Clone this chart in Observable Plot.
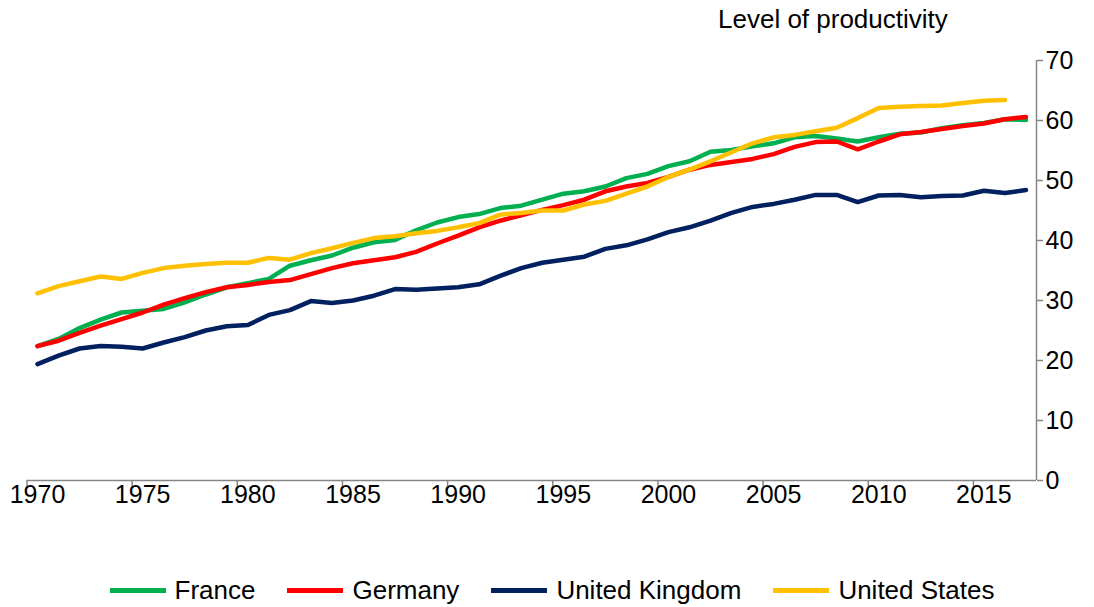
<!DOCTYPE html>
<html>
<head>
<meta charset="utf-8">
<script src="https://cdn.jsdelivr.net/npm/d3@7"></script>
<script src="https://cdn.jsdelivr.net/npm/@observablehq/plot@0.6"></script>
<style>
  body { margin: 0; background: #fff; font-family: "Liberation Sans", Arial, sans-serif; }
  #wrap { position: relative; width: 1094px; height: 607px; overflow: hidden; }
  #title { position: absolute; left: 718px; top: 4px; font-size: 26px; color: #000; white-space: nowrap; }
  #chart { position: absolute; left: 0; top: 40px; }
  #legend { position: absolute; left: 5px; top: 575px; width: 1094px; display: flex; justify-content: center; align-items: center; font-size: 26px; color: #000; }
  .item { display: flex; align-items: center; margin: 0 16px; }
  .sw { width: 56px; height: 5px; margin-right: 9px; }
</style>
</head>
<body>
<div id="wrap">
  <div id="title">Level of productivity</div>
  <div id="chart"></div>
  <div id="legend"></div>
</div>
<script>
const years = d3.range(1970, 2018);
const countries = ["France", "Germany", "United Kingdom", "United States"];
const colors = ["#00B050", "#FF0000", "#002060", "#FFC000"];

const france = [22.4, 23.6, 25.4, 26.8, 28.0, 28.3, 28.6, 29.7, 31.0, 32.2,
  32.9, 33.6, 35.8, 36.7, 37.5, 38.8, 39.7, 40.1, 41.7, 43.0,
  43.9, 44.4, 45.4, 45.8, 46.8, 47.8, 48.2, 49.0, 50.4, 51.1,
  52.4, 53.2, 54.8, 55.1, 55.7, 56.2, 57.2, 57.4, 57.0, 56.5,
  57.2, 57.8, 58.0, 58.7, 59.2, 59.6, 60.2, 60.1];
const germany = [22.4, 23.3, 24.6, 25.8, 26.9, 28.0, 29.3, 30.4, 31.4, 32.2,
  32.6, 33.1, 33.4, 34.4, 35.4, 36.2, 36.7, 37.2, 38.1, 39.5,
  40.8, 42.2, 43.3, 44.2, 45.1, 45.9, 46.8, 48.2, 49.0, 49.6,
  50.6, 51.8, 52.6, 53.1, 53.6, 54.4, 55.6, 56.4, 56.5, 55.2,
  56.5, 57.7, 58.1, 58.6, 59.1, 59.5, 60.2, 60.6];
const uk = [19.4, 20.8, 22.0, 22.4, 22.3, 22.0, 23.0, 23.9, 25.0, 25.7,
  25.9, 27.6, 28.4, 29.9, 29.6, 30.0, 30.8, 31.9, 31.8, 32.0,
  32.2, 32.7, 34.1, 35.4, 36.3, 36.8, 37.3, 38.6, 39.2, 40.2,
  41.4, 42.2, 43.3, 44.6, 45.6, 46.1, 46.8, 47.6, 47.6, 46.4,
  47.5, 47.6, 47.2, 47.4, 47.5, 48.3, 47.9, 48.4];
const us = [31.2, 32.4, 33.2, 34.0, 33.6, 34.6, 35.4, 35.8, 36.1, 36.3,
  36.3, 37.1, 36.8, 37.9, 38.7, 39.6, 40.4, 40.7, 41.2, 41.6,
  42.2, 42.9, 44.3, 44.6, 45.0, 45.0, 46.0, 46.6, 47.8, 49.0,
  50.6, 51.8, 53.2, 54.7, 56.2, 57.2, 57.6, 58.2, 58.8, 60.4,
  62.1, 62.3, 62.4, 62.5, 62.9, 63.3, 63.4, null];

const xLabels = [1970, 1975, 1980, 1985, 1990, 1995, 2000, 2005, 2010, 2015];
const yTicks = [0, 10, 20, 30, 40, 50, 60, 70];

const seriesValues = [france, germany, uk, us];
const rows = [];
countries.forEach((c, k) => {
  years.forEach((yr, i) => {
    const v = seriesValues[k][i];
    if (v != null) rows.push({ year: yr, country: c, value: v });
  });
});

const axisColor = "#868686";
const boundaries = xLabels.map(d => d - 0.5);

const chart = Plot.plot({
  width: 1094,
  height: 500,
  marginTop: 20,
  marginBottom: 60,
  marginLeft: 26.5,
  marginRight: 58,
  x: { domain: [1969.5, 2017.5] },
  y: { domain: [0, 70] },
  color: { domain: countries, range: colors },
  style: { fontFamily: "Liberation Sans, Arial, sans-serif", fontSize: "26px", color: "#000", background: "transparent" },
  marks: [
    Plot.ruleY([0], { stroke: axisColor, strokeWidth: 1.5 }),
    Plot.ruleX([2017.5], { stroke: axisColor, strokeWidth: 1.5 }),
    Plot.axisX({ ticks: boundaries, tickSize: 6, tickFormat: () => "", stroke: axisColor, strokeWidth: 1.5, label: null }),
    Plot.axisX({ ticks: xLabels, tickSize: 0, tickPadding: 5, tickFormat: d => String(d), fill: "#000", fontSize: 25, label: null }),
    Plot.axisY({ anchor: "right", ticks: yTicks, tickSize: 6, tickPadding: 3, stroke: axisColor, strokeWidth: 1.5, fill: "#000", fontSize: 25, label: null }),
    Plot.line(rows, { x: "year", y: "value", z: "country", stroke: "country", strokeWidth: 4.5, strokeLinejoin: "round", strokeLinecap: "round" })
  ]
});
document.getElementById("chart").appendChild(chart);

const legend = document.getElementById("legend");
countries.forEach((c, k) => {
  const item = document.createElement("div");
  item.className = "item";
  const sw = document.createElement("div");
  sw.className = "sw";
  sw.style.background = colors[k];
  const t = document.createElement("span");
  t.textContent = c;
  item.appendChild(sw);
  item.appendChild(t);
  legend.appendChild(item);
});
</script>
</body>
</html>
